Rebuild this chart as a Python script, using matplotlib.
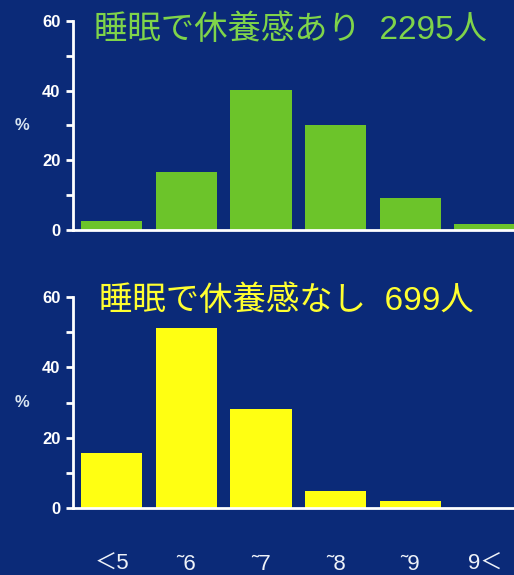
import numpy as np
import matplotlib
matplotlib.use("Agg")
import matplotlib.pyplot as plt

# sleep hours bins and share of people (%) in each
hours = ["＜5", "˜6", "˜7", "˜8", "˜9", "9＜"]
rested = [2.5, 16.6, 40.3, 30.1, 9.2, 1.6]
not_rested = [15.7, 51.3, 28.1, 4.9, 2.1, 0.0]

title_rested = "睡眠で休養感あり  2295人"
title_not = "睡眠で休養感なし  699人"

bg = "#0b2a78"
green = "#6cc42a"
yellow = "#ffff12"
fonts = ["Liberation Sans", "Noto Sans CJK JP", "DejaVu Sans"]
plt.rcParams["font.family"] = fonts

fig = plt.figure(figsize=(5.14, 5.75), dpi=100, facecolor=bg)

x = np.arange(len(hours))


def panel(rect, vals, color):
    ax = fig.add_axes(rect)
    ax.set_facecolor(bg)
    ax.bar(x, vals, width=0.82, color=color, zorder=2)
    ax.set_xlim(-0.52, 5.39)
    ax.set_ylim(0, 60)
    for side in ["top", "right"]:
        ax.spines[side].set_visible(False)
    for side in ["left", "bottom"]:
        ax.spines[side].set_color("white")
        ax.spines[side].set_linewidth(2)
        ax.spines[side].set_zorder(3)
    ax.set_yticks([0, 20, 40, 60])
    ax.set_yticks([10, 30, 50], minor=True)
    ax.tick_params(axis="y", which="both", colors="white", length=5, width=2,
                   labelsize=12, pad=4)
    for lab in ax.get_yticklabels():
        lab.set_fontweight("bold")
    ax.set_ylabel("%", color="#d8e4f0", fontsize=12, fontweight="bold",
                  rotation=0, va="center")
    ax.yaxis.set_label_coords(-0.115, 0.5)
    return ax


ax1 = panel([0.142, 0.6, 0.858, 0.3635], rested, green)
ax1.set_xticks([])
fig.text(0.183, 0.948, title_rested, color="#7fd44a", fontsize=24,
         va="center", ha="left")

ax2 = panel([0.142, 0.1165, 0.858, 0.367], not_rested, yellow)
ax2.set_xticks(x)
ax2.set_xticklabels(hours, color="#eef2f8", fontsize=16)
ax2.tick_params(axis="x", length=0, pad=33)
fig.text(0.193, 0.476, title_not, color="#ffff30", fontsize=24,
         va="center", ha="left")

fig.savefig("out.png", dpi=100, facecolor=bg)
